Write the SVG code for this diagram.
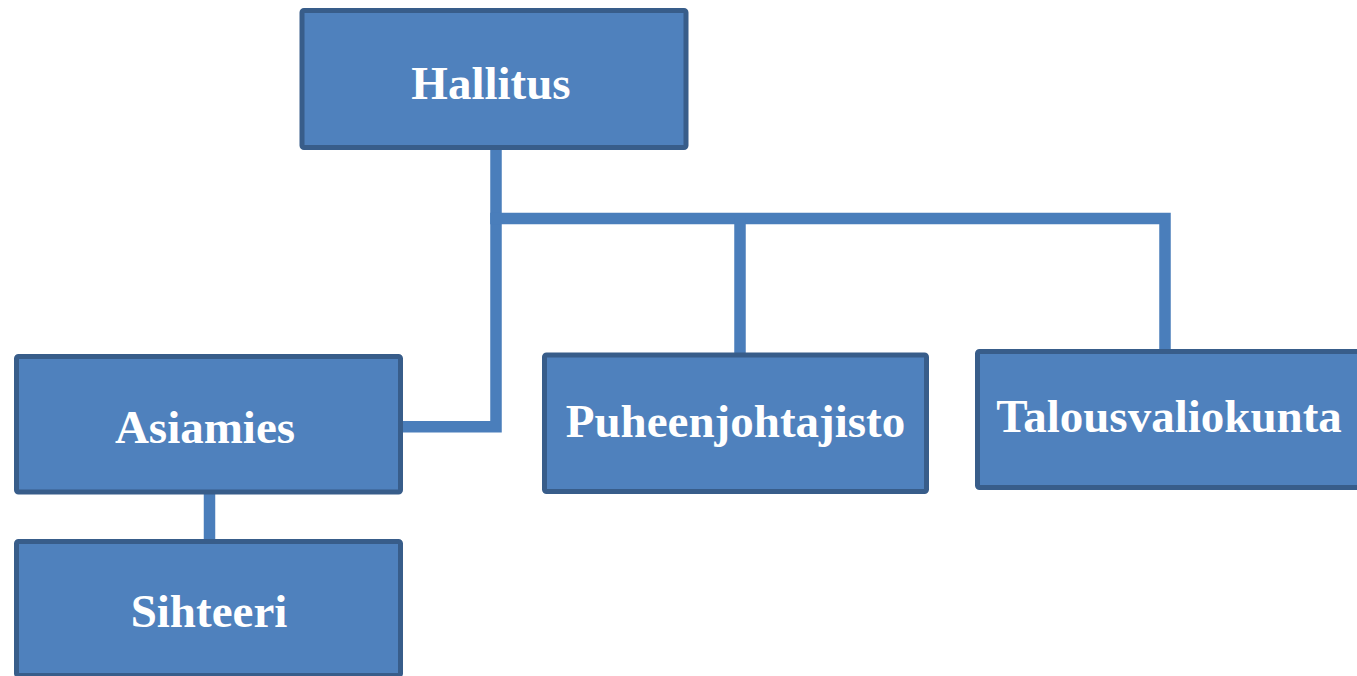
<svg xmlns="http://www.w3.org/2000/svg" width="1357" height="676" viewBox="0 0 1357 676">
<style>
.box{fill:#4f81bd;stroke:#385d8a;stroke-width:5}
.lbl{fill:#ffffff;font-family:"Liberation Serif","Times New Roman",serif;font-weight:bold;font-size:47px;text-anchor:middle}
.conn{fill:none;stroke:#4a7ebb;stroke-width:11.5;stroke-linejoin:miter;stroke-linecap:butt}
</style>
<rect width="1357" height="676" fill="#ffffff"/>
<g id="connectors">
<polyline class="conn" points="496,150 496,426.7 402,426.7"/>
<polyline class="conn" points="490.2,218.5 1165,218.5 1165,350"/>
<line class="conn" x1="740" y1="218.5" x2="740" y2="353"/>
<line class="conn" x1="209.5" y1="493" x2="209.5" y2="541"/>
</g>
<g id="hallitus">
<rect class="box" x="302" y="10.5" width="384" height="137" rx="2"/>
<text class="lbl" x="491" y="98.5">Hallitus</text>
</g>
<g id="asiamies">
<rect class="box" x="16.5" y="356.5" width="384" height="135.5" rx="2"/>
<text class="lbl" x="205" y="443.3">Asiamies</text>
</g>
<g id="sihteeri">
<rect class="box" x="16.5" y="541.5" width="384" height="134" rx="2"/>
<text class="lbl" x="209" y="627.3">Sihteeri</text>
</g>
<g id="puheenjohtajisto">
<rect class="box" x="544.5" y="355" width="382" height="136.5" rx="2"/>
<text class="lbl" x="735.5" y="437.3">Puheenjohtajisto</text>
</g>
<g id="talousvaliokunta">
<rect class="box" x="977.5" y="351.5" width="384" height="136" rx="2"/>
<text class="lbl" x="1169" y="432.3">Talousvaliokunta</text>
</g>
</svg>
